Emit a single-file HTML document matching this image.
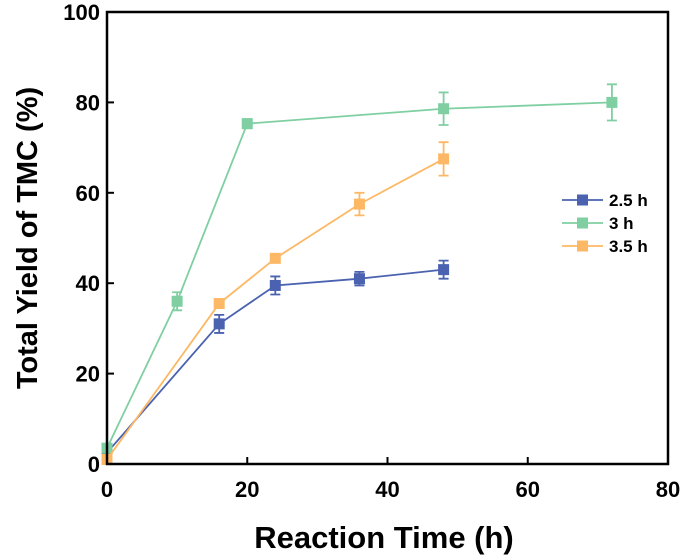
<!DOCTYPE html>
<html><head><meta charset="utf-8"><style>
body{margin:0;background:#fff;}
svg text{font-family:"Liberation Sans",Arial,sans-serif;font-weight:bold;fill:#000;}
</style></head><body>
<svg id="chart" width="685" height="555" viewBox="0 0 685 555" xmlns="http://www.w3.org/2000/svg">
<g id="plot"></g>
<rect x="107" y="12" width="561" height="452" fill="none" stroke="#000" stroke-width="2.5"/>
<g id="ticks"></g>
<text x="384" y="548" font-size="31" text-anchor="middle">Reaction Time (h)</text>
<text transform="translate(37,238) rotate(-90)" font-size="29" text-anchor="middle">Total Yield of TMC (%)</text>
<g id="legend"></g>
</svg>
<script>
const xTicks=[0,20,40,60,80];
const yTicks=[0,20,40,60,80,100];
const seriesNames=["2.5 h","3 h","3.5 h"];
const seriesColors=["#4a62b0","#7fcfa2","#fdb865"];
const x25=[0,16,24,36,48];
const y25=[2.5,31,39.5,41,43];
const e25=[0,2,2,1.5,2];
const x3=[0,10,20,48,72];
const y3=[3.5,36,75.3,78.6,80];
const e3=[0,2,1,3.6,4];
const x35=[0,16,24,36,48];
const y35=[1,35.5,45.5,57.5,67.5];
const e35=[0,0,0,2.5,3.7];
const NS="http://www.w3.org/2000/svg";
const X=v=>107+v*(561/80);
const Y=v=>464-v*(452/100);
function mk(tag,parent){const e=document.createElementNS(NS,tag);parent.appendChild(e);return e;}
const plot=document.getElementById('plot'),ticks=document.getElementById('ticks'),legend=document.getElementById('legend');
xTicks.forEach(t=>{
 const l=mk('line',ticks);l.setAttribute('x1',X(t));l.setAttribute('x2',X(t));l.setAttribute('y1',464);l.setAttribute('y2',457);l.setAttribute('stroke','#000');l.setAttribute('stroke-width','2');
 
 
 const tx=mk('text',ticks);tx.setAttribute('x',X(t));tx.setAttribute('y',497);tx.setAttribute('font-size','22');tx.setAttribute('text-anchor','middle');tx.textContent=t;
 
 
});
yTicks.forEach(t=>{
 const l=mk('line',ticks);l.setAttribute('x1',107);l.setAttribute('x2',114);l.setAttribute('y1',Y(t));l.setAttribute('y2',Y(t));l.setAttribute('stroke','#000');l.setAttribute('stroke-width','2');
 
 
 const tx=mk('text',ticks);tx.setAttribute('x',100);tx.setAttribute('y',Y(t)+8);tx.setAttribute('font-size','22');tx.setAttribute('text-anchor','end');tx.textContent=t;
 
 
});
const all=[[x25,y25,e25],[x3,y3,e3],[x35,y35,e35]];
all.forEach((s,i)=>{
 const c=seriesColors[i];
 const g=mk('g',plot);
 
 
 const pl=mk('polyline',g);pl.setAttribute('points',s[0].map((x,j)=>X(x)+','+Y(s[1][j])).join(' '));pl.setAttribute('fill','none');pl.setAttribute('stroke',c);pl.setAttribute('stroke-width','1.8');
 
 
 s[0].forEach((x,j)=>{
  const e=s[2][j];
  if(e>0){
   const p=mk('path',g);const cx=X(x),y1=Y(s[1][j]+e),y2=Y(s[1][j]-e);
   p.setAttribute('d',`M${cx},${y1}V${y2}M${cx-5},${y1}H${cx+5}M${cx-5},${y2}H${cx+5}`);p.setAttribute('stroke',c);p.setAttribute('stroke-width','1.8');p.setAttribute('fill','none');
   
   
  }
  const r=mk('rect',g);r.setAttribute('x',X(x)-5.5);r.setAttribute('y',Y(s[1][j])-5.5);r.setAttribute('width',11);r.setAttribute('height',11);r.setAttribute('fill',c);
  
  
 });
 const ly=200+i*23;
 const ll=mk('line',legend);ll.setAttribute('x1',562);ll.setAttribute('x2',603);ll.setAttribute('y1',ly);ll.setAttribute('y2',ly);ll.setAttribute('stroke',c);ll.setAttribute('stroke-width','1.8');
 
 
 const lr=mk('rect',legend);lr.setAttribute('x',577);lr.setAttribute('y',ly-5.5);lr.setAttribute('width',11);lr.setAttribute('height',11);lr.setAttribute('fill',c);
 
 
 const lt=mk('text',legend);lt.setAttribute('x',609);lt.setAttribute('y',ly+6);lt.setAttribute('font-size','17');lt.textContent=seriesNames[i];
 
 
});
</script>
</body></html>
